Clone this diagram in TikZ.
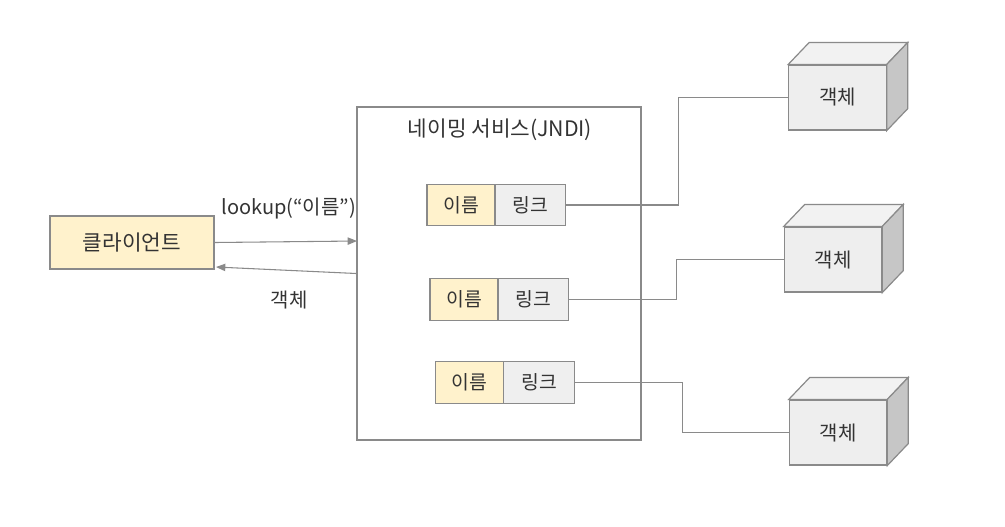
\documentclass[tikz,border=0pt]{standalone}
\usepackage{fontspec}
\setmainfont{Noto Sans CJK KR}
\usepackage{tikz}
\usetikzlibrary{arrows.meta,calc}
\definecolor{namefill}{HTML}{FFF2CC}
\definecolor{linkfill}{HTML}{EFEFEF}
\definecolor{cubefront}{HTML}{EEEEEE}
\definecolor{cubetopc}{HTML}{F2F2F2}
\definecolor{cubesidec}{HTML}{C6C6C6}
\definecolor{edge}{HTML}{8A8A8A}
\definecolor{ink}{HTML}{333333}
\tikzset{every picture/.append style={x=0.75pt,y=-0.75pt}}
\tikzset{box/.style={draw=edge,line width=0.9pt,inner sep=0pt,text=ink,font=\fontsize{14.5pt}{16pt}\selectfont}}
\tikzset{client/.style={box,fill=namefill,minimum width=123pt,minimum height=39.75pt,font=\fontsize{16pt}{18pt}\selectfont}}
\tikzset{service/.style={draw=edge,line width=0.9pt,minimum width=213pt,minimum height=249.75pt}}
\tikzset{namecell/.style={box,fill=namefill,minimum width=51pt,minimum height=31pt}}
\tikzset{linkcell/.style={box,fill=linkfill,minimum width=53pt,minimum height=31pt}}
\tikzset{object/.style={box,fill=cubefront,minimum width=73pt,minimum height=48.75pt,font=\fontsize{15pt}{17pt}\selectfont}}
\tikzset{label/.style={text=ink,font=\fontsize{15pt}{17pt}\selectfont}}
\tikzset{wire/.style={draw=edge,line width=0.8pt}}
\tikzset{flow/.style={wire,-{Triangle[length=7pt,width=5.5pt]}}}

\begin{document}
\begin{tikzpicture}
\useasboundingbox (0,0) rectangle (1005,526);
\node (cl) at (132,242.5)[client]{클라이언트};
\node (svc) at (499,273.5)[service]{};
\node (title) at (500,130)[label,font=\fontsize{16pt}{18pt}\selectfont]{네이밍 서비스(JNDI)};

\node (n1) at (461,205)[namecell]{이름};
\node (l1) at (530.5,205)[linkcell]{링크};
\node (n2) at (464,299.5)[namecell]{이름};
\node (l2) at (533.5,299.5)[linkcell]{링크};
\node (n3) at (469.5,382.5)[namecell]{이름};
\node (l3) at (539,382.5)[linkcell]{링크};

\node (o1) at (837.5,97.5)[object]{객체};
\node (o2) at (833,259.5)[object]{객체};
\node (o3) at (838,432.5)[object]{객체};
% cube faces
\foreach \o in {o1,o2,o3}{
  \draw[draw=edge,line width=0.9pt,fill=cubetopc] (\o.north west) -- ($(\o.north west)+(21,-22)$) -- ($(\o.north east)+(21,-22)$) -- (\o.north east) -- cycle;
  \draw[draw=edge,line width=0.9pt,fill=cubesidec] (\o.north east) -- ($(\o.north east)+(21,-22)$) -- ($(\o.south east)+(21,-22)$) -- (\o.south east) -- cycle;
}

\coordinate (req) at (357,241);
\coordinate (back) at (216,267);
\draw[flow] (cl.east) -- (req) node[label,pos=0.52,above=13pt]{lookup(“이름”)};
\draw[flow] (svc.west) -- (back) node[label,pos=0.48,below=12pt]{객체};

\draw[wire] (l1.east) -- ++(112,0) |- (o1.west);
\draw[wire] (l2.east) -- ++(107,0) |- (o2.west);
\draw[wire] (l3.east) -- ++(108,0) |- (o3.west);
\end{tikzpicture}
\end{document}
